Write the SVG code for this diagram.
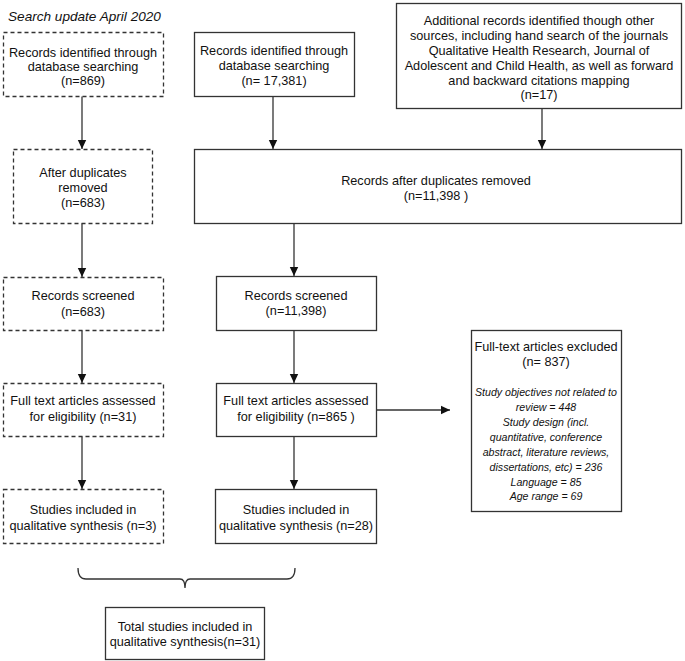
<svg xmlns="http://www.w3.org/2000/svg" width="685" height="661" viewBox="0 0 685 661">
<style>
.box{fill:#fff;stroke:#333;stroke-width:1.3}
.dash{stroke-dasharray:4 3}
.t{font-family:"Liberation Sans",Arial,sans-serif;font-size:12.7px;fill:#111;text-anchor:middle}
.i{font-family:"Liberation Sans",Arial,sans-serif;font-size:10.6px;font-style:italic;fill:#111;text-anchor:middle}
.c{stroke:#333;stroke-width:1.3;fill:none}
</style>
<defs>
<marker id="ah" markerUnits="userSpaceOnUse" markerWidth="10" markerHeight="10" refX="9" refY="5" orient="auto">
<path d="M0,0.8 L9,5 L0,9.2 z" fill="#111"/>
</marker>
</defs>
<rect width="685" height="661" fill="#fff"/>
<text x="8" y="21" style="font-family:'Liberation Sans',Arial,sans-serif;font-size:13.6px;font-style:italic;fill:#111">Search update April 2020</text>

<g id="connectors">
<line class="c" x1="82" y1="96" x2="82" y2="149" marker-end="url(#ah)"/>
<line class="c" x1="82" y1="223" x2="82" y2="277" marker-end="url(#ah)"/>
<line class="c" x1="82" y1="330" x2="82" y2="383" marker-end="url(#ah)"/>
<line class="c" x1="82" y1="436" x2="82" y2="489" marker-end="url(#ah)"/>
<line class="c" x1="273" y1="96" x2="273" y2="149" marker-end="url(#ah)"/>
<line class="c" x1="542" y1="108" x2="542" y2="149" marker-end="url(#ah)"/>
<line class="c" x1="294" y1="223" x2="294" y2="276" marker-end="url(#ah)"/>
<line class="c" x1="294" y1="330" x2="294" y2="383" marker-end="url(#ah)"/>
<line class="c" x1="294" y1="436" x2="294" y2="489" marker-end="url(#ah)"/>
<line class="c" x1="376" y1="410" x2="450" y2="410" marker-end="url(#ah)"/>
<path class="c" d="M78,568 Q78,579 86,579 L180,579 Q185,579 185,588 Q185,579 190,579 L287,579 Q295,579 295,568"/>
</g>

<g id="l1">
<rect class="box dash" x="3.5" y="32.5" width="160" height="64"/>
<text class="t" x="83" y="57">Records identified through</text>
<text class="t" x="83" y="71">database searching</text>
<text class="t" x="83" y="85">(n=869)</text>
</g>
<g id="l2">
<rect class="box dash" x="13.5" y="149.5" width="139" height="74"/>
<text class="t" x="83" y="177">After duplicates</text>
<text class="t" x="83" y="192">removed</text>
<text class="t" x="83" y="207">(n=683)</text>
</g>
<g id="l3">
<rect class="box dash" x="3.5" y="277.5" width="160" height="53"/>
<text class="t" x="83" y="300">Records screened</text>
<text class="t" x="83" y="316">(n=683)</text>
</g>
<g id="l4">
<rect class="box dash" x="3.5" y="383.5" width="160" height="53"/>
<text class="t" x="83" y="405">Full text articles assessed</text>
<text class="t" x="83" y="421">for eligibility (n=31)</text>
</g>
<g id="l5">
<rect class="box dash" x="3.5" y="489.5" width="160" height="54"/>
<text class="t" x="83" y="514">Studies included in</text>
<text class="t" x="83" y="530">qualitative synthesis (n=3)</text>
</g>

<g id="m1">
<rect class="box" x="194.5" y="32.5" width="160" height="64"/>
<text class="t" x="274" y="55">Records identified through</text>
<text class="t" x="274" y="70">database searching</text>
<text class="t" x="274" y="85">(n= 17,381)</text>
</g>
<g id="r1">
<rect class="box" x="396.5" y="3.5" width="285" height="105"/>
<text class="t" x="539" y="25">Additional records identified though other</text>
<text class="t" x="539" y="40">sources, including hand search of the journals</text>
<text class="t" x="539" y="55">Qualitative Health Research, Journal of</text>
<text class="t" x="539" y="70">Adolescent and Child Health, as well as forward</text>
<text class="t" x="539" y="85">and backward citations mapping</text>
<text class="t" x="539" y="99">(n=17)</text>
</g>
<g id="m2">
<rect class="box" x="194.5" y="149.5" width="487" height="74"/>
<text class="t" x="436" y="185">Records after duplicates removed</text>
<text class="t" x="436" y="200">(n=11,398 )</text>
</g>
<g id="m3">
<rect class="box" x="216.5" y="276.5" width="160" height="54"/>
<text class="t" x="296" y="300">Records screened</text>
<text class="t" x="296" y="315">(n=11,398)</text>
</g>
<g id="m4">
<rect class="box" x="216.5" y="383.5" width="160" height="53"/>
<text class="t" x="296" y="405">Full text articles assessed</text>
<text class="t" x="296" y="421">for eligibility (n=865 )</text>
</g>
<g id="m5">
<rect class="box" x="215.5" y="489.5" width="161" height="54"/>
<text class="t" x="296" y="514">Studies included in</text>
<text class="t" x="296" y="530">qualitative synthesis (n=28)</text>
</g>
<g id="excl">
<rect class="box" x="471.5" y="330.5" width="150" height="181"/>
<text class="t" x="546" y="351">Full-text articles excluded</text>
<text class="t" x="546" y="366">(n= 837)</text>
<text class="i" x="546" y="396">Study objectives not related to</text>
<text class="i" x="546" y="411">review = 448</text>
<text class="i" x="546" y="426">Study design (incl.</text>
<text class="i" x="546" y="441">quantitative, conference</text>
<text class="i" x="546" y="456">abstract, literature reviews,</text>
<text class="i" x="546" y="471">dissertations, etc) = 236</text>
<text class="i" x="546" y="486">Language = 85</text>
<text class="i" x="546" y="500">Age range = 69</text>
</g>
<g id="total">
<rect class="box" x="105.5" y="607.5" width="159" height="52"/>
<text class="t" x="185" y="631">Total studies included in</text>
<text class="t" x="185" y="646">qualitative synthesis(n=31)</text>
</g>
</svg>
